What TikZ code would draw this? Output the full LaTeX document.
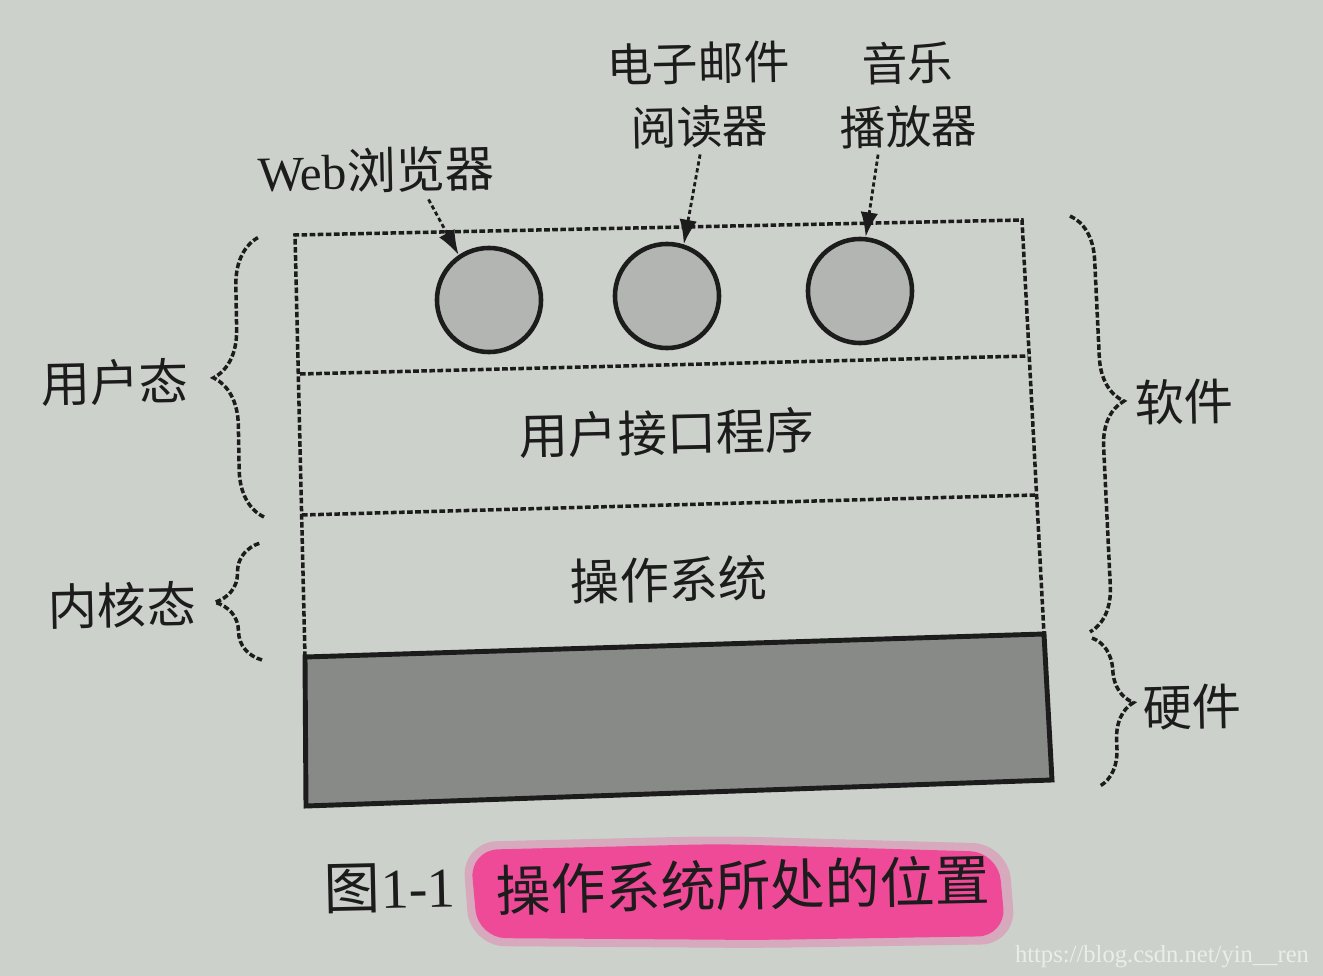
\documentclass[tikz,border=0pt]{standalone}
\usepackage{fontspec}
\setmainfont{Liberation Serif}
\newfontfamily\cjk{Noto Sans CJK SC}
\usepackage{tikz}
\usetikzlibrary{arrows.meta,decorations.pathreplacing}
\definecolor{Paper}{HTML}{CDD1CB}
\definecolor{Ink}{HTML}{1C1C1C}
\definecolor{Dots}{HTML}{B2B5B1}
\definecolor{Hard}{HTML}{878A86}
\definecolor{Marker}{HTML}{EE4A98}
\newcommand{\fs}[1]{\fontsize{#1}{#1}\selectfont}

\tikzset{
  dotline/.style={draw=Ink,line width=1pt,dash pattern=on 1.6pt off 0.7pt},
  app/.style={circle,draw=Ink,line width=1.3pt,fill=Dots,minimum size=1.04cm,inner sep=0pt},
  ptr/.style={draw=Ink,line width=0.8pt,dash pattern=on 1.2pt off 0.8pt,-{Latex[length=7pt,width=5pt]}},
  txt/.style={inner sep=0pt,rotate=1.2,text=Ink},
  lab/.style={txt,font=\cjk\fs{14}},
  brc/.style={dotline,decorate,decoration={brace,amplitude=#1}},
  brc/.default=0.45cm,
}

\begin{document}
\begin{tikzpicture}[x=0.01cm,y=-0.01cm]
    \useasboundingbox (0,0) rectangle (1323,976);
    \fill[Paper] (0,0) rectangle (1323,976);

    % marker on the caption
    \fill[Marker!30!Paper,rounded corners=10] (462,842) -- (720,836) -- (1008,844) -- (1016,944) -- (760,948) -- (470,946) -- cycle;
    \fill[Marker,rounded corners=8] (470,850) -- (720,844) -- (998,852) -- (1006,936) -- (760,940) -- (478,938) -- cycle;

    % layers
    \draw[dotline] (305,657) -- (295,235) -- (1022,220) -- (1044,634);
    \draw[dotline] (300,374) -- (1028,356);
    \draw[dotline] (302,515) -- (1035,495);
    \draw[draw=Ink,line width=1.4pt,fill=Hard] (305,657) -- (1044,634) -- (1052,780) -- (306,806) -- cycle;

    \node[app] (web) at (489,300) {};
    \node[app] (mail) at (667,296) {};
    \node[app] (music) at (860,291) {};

    \node[txt,font=\fs{14}] (weblbl) at (376,170) {Web{\cjk 浏览器}};
    \node[lab,font=\cjk\fs{13},align=center] (maillbl) at (699,95) {电子邮件\\[5pt]阅读器};
    \node[lab,font=\cjk\fs{13},align=center] (musiclbl) at (908,95) {音乐\\[5pt]播放器};

    \draw[ptr] ([xshift=0.52cm,yshift=-0.06cm]weblbl.south) -- (web.124);
    \draw[ptr] ([yshift=-0.06cm]maillbl.south) -- (mail.72);
    \draw[ptr] ([xshift=-0.31cm,yshift=-0.06cm]musiclbl.south) -- (music.84);

    \node[lab] (uip) at (667,433) {用户接口程序};
    \node[lab] (os) at (669,580) {操作系统};

    % modes and parts
    \draw[brc=0.48cm] (264,517) -- (259,237);
    \draw[brc=0.46cm] (262,660) -- (260,543);
    \node[lab] (umode) at (115,382) {用户态};
    \node[lab] (kmode) at (122,605) {内核态};

    \draw[brc=0.45cm,decoration={aspect=0.45}] (1070,216) -- (1090,632);
    \draw[brc=0.38cm,decoration={aspect=0.45}] (1092,638) -- (1100,786);
    \node[lab] (sw) at (1184,402) {软件};
    \node[lab] (hw) at (1192,707) {硬件};

    \node[txt] (fignum) at (390,888) {\fs{16}{\cjk 图}1-1};
    \node[txt,font=\cjk\fs{15.6}] (cap) at (743,885) {操作系统所处的位置};
    \node[inner sep=0pt,text=white!60!Paper,font=\fs{7}] (wm) at (1162,957) {https://blog.csdn.net/yin\_\_ren};
\end{tikzpicture}
\end{document}
